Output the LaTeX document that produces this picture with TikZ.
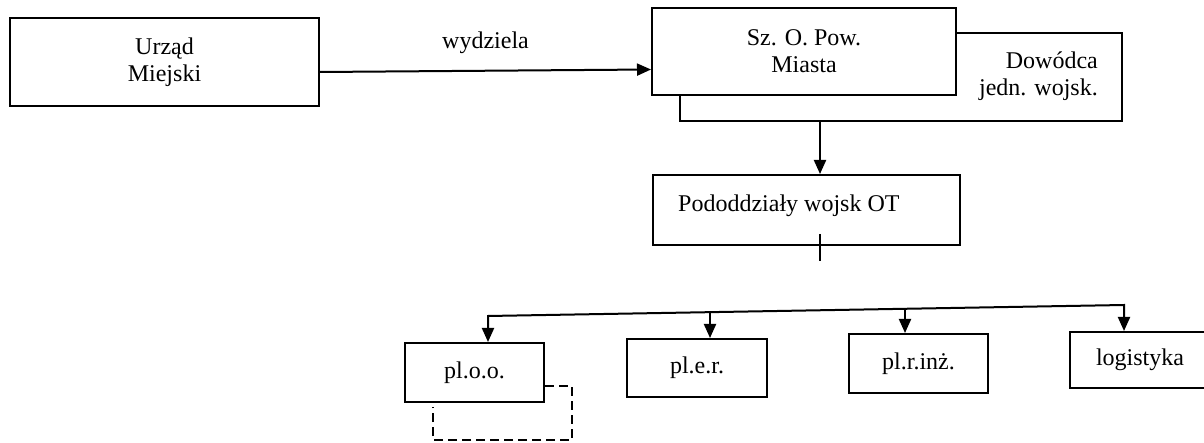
\documentclass[tikz,border=0pt]{standalone}
\usepackage{fontspec}
\setmainfont{Liberation Serif}
\usetikzlibrary{arrows.meta,calc}
\newcommand\lbl{\fontsize{24}{27}\selectfont}
\tikzset{
  line/.style={line width=2pt},
  box/.style={draw,line width=2pt,fill=white,inner sep=0pt,align=center,font=\lbl},
  txt/.style={inner sep=0pt,font=\lbl},
  tip/.tip={Triangle[length=14pt,width=12pt]},
  arr/.style={line width=2pt,-tip},
  dashline/.style={line width=2pt,dash pattern=on 9pt off 5pt},
}
\begin{document}
\begin{tikzpicture}[x=1pt,y=-1pt]
  \clip (0,0) rectangle (1204,443);
  \fill[white] (0,0) rectangle (1204,443);

  % top row
  \node[box,minimum width=309pt,minimum height=88pt] (urzad) at (164.5,62) {Urząd\\Miejski};
  \node[box,minimum width=442pt,minimum height=88pt] (dow) at (901,77) {};
  \node[txt,anchor=east,align=right] (dowtxt) at (1098,76) {Dowódca\\jedn. wojsk.};
  \node[box,minimum width=304pt,minimum height=87pt] (sz) at (804,51.5) {Sz. O. Pow.\\Miasta};

  \draw[arr] ($(urzad.east)+(0,10)$) -- node[midway,yshift=28pt,txt] (wyd) {wydziela} ($(sz.west)+(0,18)$);

  % subunits
  \node[box,minimum width=307pt,minimum height=70pt] (pod) at (806.5,210) {};
  \node[txt,anchor=base west] (podtxt) at (678,212) {Pododdziały wojsk OT};

  \coordinate (tap) at (820,0);
  \draw[arr] (tap |- dow.south) -- (tap |- pod.north);
  \draw[line] (tap |- pod.south) ++(0,-12) -- ++(0,27);

  % bottom row
  \node[box,minimum width=139pt,minimum height=59pt] (ploo) at (474.5,372.5) {pl.o.o.};
  \node[box,minimum width=140pt,minimum height=58pt] (pler) at (697,368) {pl.e.r.};
  \node[box,minimum width=139pt,minimum height=59pt] (plr) at (918.5,363.5) {pl.r.inż.};
  \node[box,minimum width=140pt,minimum height=56pt] (log) at (1140,360) {logistyka};

  \coordinate (b1) at (488,316);
  \coordinate (b2) at (710,312);
  \coordinate (b3) at (905,309);
  \coordinate (b4) at (1124,305);
  \draw[line,tip-tip] (b1 |- ploo.north) -- (b1) -- (b4) -- (b4 |- log.north);
  \draw[arr] (b2) -- (b2 |- pler.north);
  \draw[arr] (b3) -- (b3 |- plr.north);

  % dashed link below pl.o.o.
  \coordinate (dashend) at (433,407);
  \draw[dashline] ($(ploo.south east)+(0,-17)$) -| (572,440) -| (dashend);
\end{tikzpicture}
\end{document}
